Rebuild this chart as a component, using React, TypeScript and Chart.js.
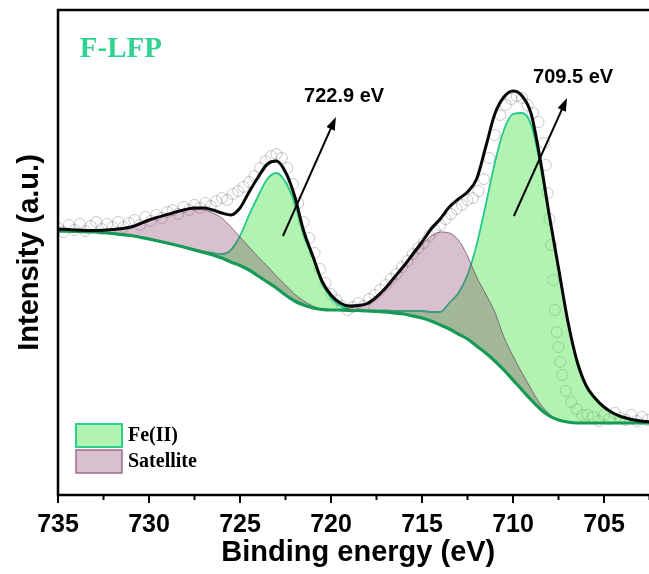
import React, { useEffect, useRef } from 'react';
import { Chart, registerables } from 'chart.js';

Chart.register(...registerables);

// ---------- data (binding energy in eV, intensity in arbitrary units) ----------
const fitEnergy = [
  735, 734, 733, 732, 731, 730, 729, 728, 727.5, 727, 726.5, 726, 725.5, 725, 724.5, 724,
  723.5, 723, 722.5, 722, 721.5, 721, 720.5, 720, 719.5, 719, 718.5, 718, 717.5, 717, 716.5,
  716, 715.5, 715, 714.5, 714, 713.5, 713, 712.5, 712, 711.5, 711, 710.5, 710, 709.5, 709,
  708.5, 708, 707.5, 707, 706.5, 706, 705.5, 705, 704.5, 704, 703, 702,
];

const background = [
  264, 263.5, 263, 261.5, 259.5, 256, 252, 247.5, 245, 242.5, 240, 237, 233, 229.5, 225, 219,
  213, 207, 200, 194, 190, 187, 185.5, 185, 185, 184.5, 184.5, 184, 183.5, 183, 182,
  181, 179, 177, 174, 170, 166, 161, 156, 149, 142, 134, 125, 115, 105, 95,
  86, 79, 75, 73, 72, 72, 72, 72, 72, 72, 72, 72,
];

// Fe(II) 2p1/2 (722.9 eV)
const fe2p12 = [
  264, 263.5, 263, 261.5, 259.5, 256, 252, 247.5, 245.5, 243.5, 242, 241, 245, 259, 280, 299,
  316, 322, 313, 292, 260, 237, 212, 197, 189, 186, 184.5, 184, 183.5, 183, 182,
  181, 179, 177, 174, 170, 166, 161, 156, 149, 142, 134, 125, 115, 105, 95,
  86, 79, 75, 73, 72, 72, 72, 72, 72, 72, 72, 72,
];

// Fe(II) 2p3/2 (709.5 eV)
const fe2p32 = [
  264, 263.5, 263, 261.5, 259.5, 256, 252, 247.5, 245, 242.5, 240, 237, 233, 229.5, 225, 219,
  213, 207, 200, 194, 190, 187, 185.5, 185, 185, 184.5, 185, 184.5, 184.5, 184.5, 184,
  184, 184, 184, 183, 183, 192, 202, 220, 250, 290, 332, 365, 381, 382, 370,
  330, 277, 227, 175, 135, 110, 97, 88, 82, 78, 74, 73,
];

// satellite of 2p1/2
const sat2p12 = [
  264.5, 264, 264, 265, 267.5, 274, 280, 285, 286, 285, 282, 277, 268, 258, 248, 238,
  229, 219, 210, 201, 194, 189, 186, 185, 185, 184.5, 184.5, 184, 183.5, 183, 182,
  181, 179, 177, 174, 170, 166, 161, 156, 149, 142, 134, 125, 115, 105, 95,
  86, 79, 75, 73, 72, 72, 72, 72, 72, 72, 72, 72,
];

// satellite of 2p3/2
const sat2p32 = [
  264, 263.5, 263, 261.5, 259.5, 256, 252, 247.5, 245, 242.5, 240, 237, 233, 229.5, 225, 219,
  213, 207, 200, 194, 190, 187, 185.5, 185, 185.5, 187, 189, 191, 197, 206, 217,
  228, 239, 250, 259, 263, 262, 255, 239, 218, 201, 183, 158, 139, 122, 106,
  91, 81, 75, 73, 72, 72, 72, 72, 72, 72, 72, 72,
];

const envelope = [
  266, 265, 264.5, 265.5, 268, 275, 280.5, 285.5, 287, 287, 285, 282, 280, 287, 303, 318,
  331, 334, 323, 299, 264, 239, 214, 200, 192, 189, 189.5, 191.5, 198, 207, 218,
  229, 241, 253, 266, 276, 288, 296, 303, 316, 348, 381, 398, 404, 399, 381,
  335, 279, 227, 175, 135, 110, 97, 88, 82, 78, 74, 73,
];

const rawEnergy = [
  735.0, 734.7, 734.4, 734.1, 733.8, 733.5, 733.2, 732.9, 732.6, 732.3, 732.0, 731.7, 731.4,
  731.1, 730.8, 730.5, 730.2, 729.9, 729.6, 729.3, 729.0, 728.7, 728.4, 728.1, 727.8, 727.5,
  727.2, 726.9, 726.6, 726.3, 726.0, 725.7, 725.4, 725.1, 724.8, 724.5, 724.2, 723.9, 723.6,
  723.3, 723.0, 722.7, 722.4, 722.1, 721.8, 721.5, 721.2, 720.9, 720.6, 720.3, 720.0, 719.7,
  719.4, 719.1, 718.8, 718.5, 718.2, 717.9, 717.6, 717.3, 717.0, 716.7, 716.4, 716.1, 715.8,
  715.5, 715.2, 714.9, 714.6, 714.3, 714.0, 713.7, 713.4, 713.1, 712.8, 712.5, 712.2, 711.9,
  711.6, 711.3, 711.0, 710.7, 710.4, 710.1, 709.8, 709.5, 709.2, 708.9, 708.6, 708.3, 708.2,
  708.1, 708.0, 707.9, 707.8, 707.7, 707.6, 707.5, 707.4, 707.3, 707.1, 706.8, 706.5, 706.2,
  705.9, 705.6, 705.3, 705.0, 704.7, 704.4, 704.1, 703.8, 703.5, 703.2, 702.9, 702.6,
];

const rawIntensity = [
  267, 263, 270, 265, 271, 264, 269, 273, 266, 271, 268, 273, 268,
  272, 275, 270, 278, 274, 280, 277, 283, 285, 281, 288, 285, 290,
  287, 292, 289, 294, 297, 295, 301, 304, 308, 313, 319, 327, 334,
  339, 341, 337, 327, 311, 292, 273, 257, 242, 226, 212, 201, 195,
  189, 185, 188, 192, 189, 196, 200, 205, 210, 216, 221, 228, 234,
  241, 247, 252, 259, 265, 270, 276, 281, 286, 290, 295, 297, 304,
  316, 337, 360, 380, 390, 396, 399, 397, 390, 382, 373, 352, 330,
  302, 276, 250, 215, 185, 163, 148, 133, 120, 104, 93, 86, 80,
  80, 78, 74, 80, 76, 82, 77, 75, 80, 74, 78, 75,
];

const xMajorTicks = [735, 730, 725, 720, 715, 710, 705];
const xMinorTicks = [732.5, 727.5, 722.5, 717.5, 712.5, 707.5, 702.5];

const peakNotes = [
  { text: '722.9 eV', label: [721.48, 393], from: [722.64, 259], to: [719.73, 378] },
  { text: '709.5 eV', label: [708.9, 412], from: [709.95, 279], to: [707.03, 397] },
];
const sampleName = { text: 'F-LFP', at: [733.8, 438] };

// ---------- styles ----------
const SANS = 'Arial, "Liberation Sans", sans-serif';
const SERIF = '"Times New Roman", "Liberation Serif", serif';
const GREEN_FILL = 'rgba(60,225,60,0.4)';
const GREEN_LINE = '#22c98a';
const PINK_FILL = 'rgba(125,45,95,0.3)';
const PINK_LINE = 'rgba(110,60,95,0.7)';
const BG_LINE = '#169a55';

const legendItems = [
  { label: 'Fe(II)', fill: GREEN_FILL, stroke: '#2bd08c', lw: 2 },
  { label: 'Satellite', fill: PINK_FILL, stroke: 'rgba(150,95,130,0.9)', lw: 1.5 },
];

function drawArrow(ctx: CanvasRenderingContext2D, x0: number, y0: number, x1: number, y1: number) {
  const ang = Math.atan2(y1 - y0, x1 - x0);
  const L = 13;
  const W = 4.5;
  ctx.beginPath();
  ctx.moveTo(x0, y0);
  ctx.lineTo(x1 - (L - 3) * Math.cos(ang), y1 - (L - 3) * Math.sin(ang));
  ctx.stroke();
  ctx.beginPath();
  ctx.moveTo(x1, y1);
  ctx.lineTo(x1 - L * Math.cos(ang) + W * Math.sin(ang), y1 - L * Math.sin(ang) - W * Math.cos(ang));
  ctx.lineTo(x1 - L * Math.cos(ang) - W * Math.sin(ang), y1 - L * Math.sin(ang) + W * Math.cos(ang));
  ctx.closePath();
  ctx.fill();
}

const decorPlugin = {
  id: 'decor',
  afterDatasetsDraw(chart: any) {
    const { ctx, scales } = chart;
    const xs = scales.x;
    const ys = scales.y;
    ctx.save();
    // sample name
    ctx.fillStyle = '#2fd38f';
    ctx.font = `bold 29px ${SERIF}`;
    ctx.textAlign = 'left';
    ctx.textBaseline = 'alphabetic';
    ctx.fillText(sampleName.text, xs.getPixelForValue(sampleName.at[0]), ys.getPixelForValue(sampleName.at[1]));
    // peak notes
    ctx.fillStyle = '#000';
    ctx.strokeStyle = '#000';
    ctx.lineWidth = 2;
    ctx.font = `bold 20px ${SANS}`;
    for (const n of peakNotes) {
      ctx.fillText(n.text, xs.getPixelForValue(n.label[0]), ys.getPixelForValue(n.label[1]));
      drawArrow(
        ctx,
        xs.getPixelForValue(n.from[0]), ys.getPixelForValue(n.from[1]),
        xs.getPixelForValue(n.to[0]), ys.getPixelForValue(n.to[1]),
      );
    }
    ctx.restore();
  },
  afterDraw(chart: any) {
    const { ctx, chartArea: a, scales } = chart;
    const xs = scales.x;
    ctx.save();
    // frame
    ctx.strokeStyle = '#000';
    ctx.lineWidth = 2.5;
    ctx.beginPath();
    ctx.moveTo(a.right + 5, a.top);
    ctx.lineTo(a.left, a.top);
    ctx.lineTo(a.left, a.bottom);
    ctx.lineTo(a.right + 5, a.bottom);
    ctx.stroke();
    // ticks
    ctx.lineWidth = 2;
    ctx.beginPath();
    for (const v of xMajorTicks) {
      const px = xs.getPixelForValue(v);
      ctx.moveTo(px, a.bottom);
      ctx.lineTo(px, a.bottom + 8);
    }
    for (const v of xMinorTicks) {
      const px = xs.getPixelForValue(v);
      ctx.moveTo(px, a.bottom);
      ctx.lineTo(px, a.bottom + 5);
    }
    ctx.stroke();
    // legend
    const lx = a.left + 18;
    let ly = a.bottom - 71;
    ctx.font = `bold 20px ${SERIF}`;
    ctx.textAlign = 'left';
    ctx.textBaseline = 'middle';
    for (const item of legendItems) {
      ctx.fillStyle = item.fill;
      ctx.fillRect(lx, ly, 46, 23);
      ctx.strokeStyle = item.stroke;
      ctx.lineWidth = item.lw;
      ctx.strokeRect(lx, ly, 46, 23);
      ctx.fillStyle = '#000';
      ctx.fillText(item.label, lx + 52, ly + 12);
      ly += 26;
    }
    ctx.restore();
  },
};

export default function App() {
  const canvasRef = useRef<HTMLCanvasElement | null>(null);

  useEffect(() => {
    const canvas = canvasRef.current;
    if (!canvas) return;
    const pts = (ys: number[]) => fitEnergy.map((x, i) => ({ x, y: ys[i] }));
    const line = { pointRadius: 0, cubicInterpolationMode: 'monotone' as const };

    const chart = new Chart(canvas, {
      type: 'line',
      data: {
        datasets: [
          { label: 'Background', data: pts(background), borderColor: BG_LINE, borderWidth: 3.2, fill: false, order: 2, ...line },
          { label: 'Satellite', data: pts(sat2p12), borderColor: PINK_LINE, borderWidth: 1, backgroundColor: PINK_FILL, fill: { target: 0 }, order: 5, ...line },
          { label: 'Satellite', data: pts(sat2p32), borderColor: PINK_LINE, borderWidth: 1, backgroundColor: PINK_FILL, fill: { target: 0 }, order: 5, ...line },
          { label: 'Fe(II)', data: pts(fe2p12), borderColor: GREEN_LINE, borderWidth: 1.8, backgroundColor: GREEN_FILL, fill: { target: 0 }, order: 6, ...line },
          { label: 'Fe(II)', data: pts(fe2p32), borderColor: GREEN_LINE, borderWidth: 1.8, backgroundColor: GREEN_FILL, fill: { target: 0 }, order: 6, ...line },
          { label: 'Envelope', data: pts(envelope), borderColor: '#080808', borderWidth: 3, fill: false, order: 1, ...line },
          {
            label: 'Raw',
            data: rawEnergy.map((x, i) => ({ x, y: rawIntensity[i] })),
            showLine: false,
            pointRadius: 5.5,
            pointBorderWidth: 1,
            pointBorderColor: 'rgba(120,120,120,0.4)',
            pointBackgroundColor: 'rgba(255,255,255,0)',
            order: 10,
          },
        ],
      } as any,
      options: {
        animation: false,
        responsive: false,
        events: [],
        layout: { padding: { left: 0, right: 11.4, top: 10, bottom: 0 } },
        plugins: { legend: { display: false }, tooltip: { enabled: false } },
        scales: {
          x: {
            type: 'linear',
            reverse: true,
            min: 702,
            max: 735,
            grid: { display: false, drawTicks: false },
            border: { display: false },
            afterBuildTicks: (scale: any) => {
              scale.ticks = xMajorTicks.map((v) => ({ value: v }));
            },
            afterFit: (scale: any) => {
              scale.height = 79;
            },
            ticks: {
              padding: 15,
              color: '#000',
              autoSkip: false,
              maxRotation: 0,
              font: { family: SANS, size: 25, weight: 'bold' },
              callback: (v: any) => String(v),
            },
            title: {
              display: true,
              text: 'Binding energy (eV)',
              color: '#000',
              font: { family: SANS, size: 29, weight: 'bold' },
              padding: { top: 0, bottom: 3.6 },
            },
          },
          y: {
            type: 'linear',
            min: 0,
            max: 485,
            grid: { display: false, drawTicks: false },
            border: { display: false },
            ticks: { display: false },
            afterFit: (scale: any) => {
              scale.width = 58;
            },
            title: {
              display: true,
              text: 'Intensity (a.u.)',
              color: '#000',
              font: { family: SANS, size: 29, weight: 'bold' },
              padding: { top: 12.6, bottom: 0 },
            },
          },
        },
      } as any,
      plugins: [decorPlugin],
    });

    return () => chart.destroy();
  }, []);

  return (
    <div
      style={{
        position: 'absolute',
        left: 0,
        top: 0,
        width: 649,
        height: 574,
        overflow: 'hidden',
        background: '#fff',
      }}
    >
      <canvas ref={canvasRef} width={670} height={574} style={{ display: 'block' }} />
    </div>
  );
}
